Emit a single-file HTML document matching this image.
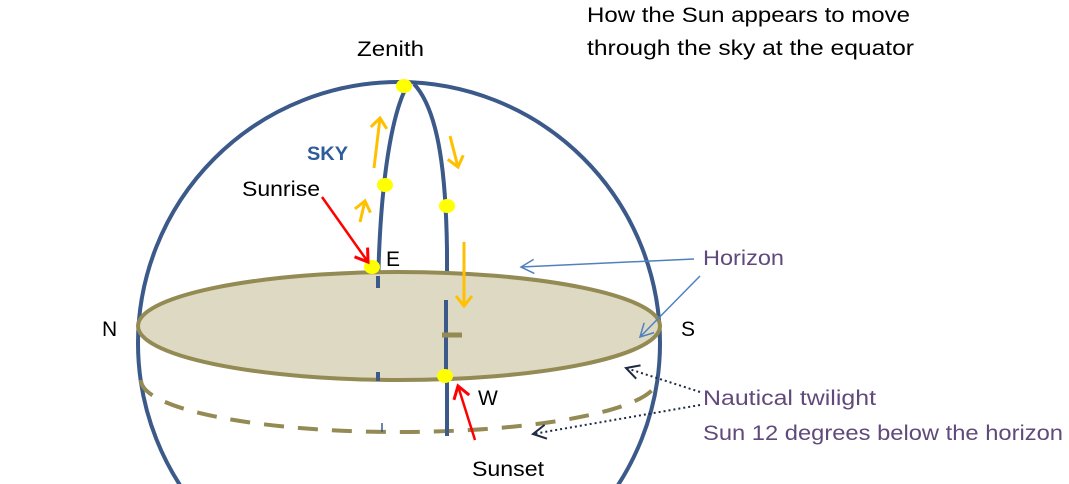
<!DOCTYPE html>
<html><head><style>
html,body{margin:0;background:#fff;overflow:hidden;width:1069px;height:484px;}
svg{display:block;font-family:"Liberation Sans",sans-serif;}
</style></head><body>
<svg width="1069" height="484" viewBox="0 0 1069 484">
<defs>
<marker id="ob" markerWidth="16" markerHeight="20" refX="12" refY="10" orient="auto" markerUnits="userSpaceOnUse"><path d="M2,2 L12,10 L2,18" fill="none" stroke="#ffc000" stroke-width="3"/></marker>
<marker id="rd" markerWidth="20" markerHeight="20" refX="14" refY="10" orient="auto" markerUnits="userSpaceOnUse"><path d="M2,2 L14,10 L2,18" fill="none" stroke="#ff0000" stroke-width="3"/></marker>
<marker id="bl" markerWidth="16" markerHeight="16" refX="14" refY="8" orient="auto" markerUnits="userSpaceOnUse"><path d="M1,1 L14,8 L1,15" fill="none" stroke="#4f81bd" stroke-width="1.5"/></marker>
<marker id="dk" markerWidth="16" markerHeight="16" refX="14" refY="8" orient="auto" markerUnits="userSpaceOnUse"><path d="M1,1 L14,8 L1,15" fill="none" stroke="#1f2a44" stroke-width="2"/></marker>
</defs>
<circle cx="399" cy="343" r="261" fill="none" stroke="#3b5a8a" stroke-width="4"/>
<path d="M141,380 A258,52 0 0 0 657,380" fill="none" stroke="#948a54" stroke-width="4" stroke-dasharray="20,14"/>
<path d="M408,84 C392,112 380,180 378,288" fill="none" stroke="#3b5a8a" stroke-width="4"/>
<path d="M414,84 C440,112 446,180 447,250 L447,436" fill="none" stroke="#3b5a8a" stroke-width="4"/>
<ellipse cx="399" cy="326" rx="261" ry="54" fill="#ddd9c3" stroke="#948a54" stroke-width="4"/>
<line x1="378" y1="276" x2="378" y2="288" stroke="#3b5a8a" stroke-width="4"/>
<line x1="378" y1="372" x2="378" y2="381" stroke="#3b5a8a" stroke-width="4"/>
<line x1="382" y1="423" x2="382" y2="432" stroke="#3b5a8a" stroke-width="1.5"/>
<line x1="446" y1="300" x2="446" y2="380" stroke="#3b5a8a" stroke-width="4"/>
<line x1="442" y1="335" x2="462" y2="335" stroke="#948a54" stroke-width="5"/>
<g fill="#ffff00">
<ellipse cx="404" cy="86" rx="8" ry="7"/><ellipse cx="385" cy="185" rx="8" ry="7"/>
<ellipse cx="447" cy="206" rx="8" ry="7"/><ellipse cx="372" cy="267" rx="8" ry="7"/>
<ellipse cx="445" cy="376" rx="8" ry="7"/>
</g>
<g stroke="#ffc000" stroke-width="3" fill="none">
<line x1="374" y1="168" x2="380" y2="118" marker-end="url(#ob)"/>
<line x1="360" y1="222" x2="365" y2="201" marker-end="url(#ob)"/>
<line x1="450" y1="136" x2="458" y2="167" marker-end="url(#ob)"/>
<line x1="464" y1="242" x2="464" y2="306" marker-end="url(#ob)"/>
</g>
<line x1="322" y1="197" x2="368" y2="262" stroke="#f00" stroke-width="2.5" marker-end="url(#rd)"/>
<line x1="475" y1="440" x2="458" y2="386" stroke="#f00" stroke-width="2.5" marker-end="url(#rd)"/>
<line x1="694" y1="259" x2="521" y2="267" stroke="#4f81bd" stroke-width="1.5" marker-end="url(#bl)"/>
<line x1="700" y1="276" x2="640" y2="337" stroke="#4f81bd" stroke-width="1.5" marker-end="url(#bl)"/>
<line x1="700" y1="392" x2="626" y2="368" stroke="#1f2a44" stroke-width="2" stroke-dasharray="2,3" marker-end="url(#dk)"/>
<line x1="700" y1="405" x2="533" y2="434" stroke="#1f2a44" stroke-width="2" stroke-dasharray="2,3" marker-end="url(#dk)"/>
<g font-size="21" fill="#000">
<text x="587" y="22" textLength="323" lengthAdjust="spacingAndGlyphs">How the Sun appears to move</text>
<text x="587" y="55" textLength="327" lengthAdjust="spacingAndGlyphs">through the sky at the equator</text>
<text x="357" y="56" textLength="67" lengthAdjust="spacingAndGlyphs">Zenith</text>
<text x="242" y="196" textLength="78" lengthAdjust="spacingAndGlyphs">Sunrise</text>
<text x="386" y="266">E</text>
<text x="102" y="336">N</text>
<text x="681" y="336">S</text>
<text x="478" y="405">W</text>
<text x="472" y="476" textLength="72" lengthAdjust="spacingAndGlyphs">Sunset</text>
</g>
<text x="307" y="160" font-size="19" font-weight="bold" fill="#2e5c9a" textLength="41" lengthAdjust="spacingAndGlyphs">SKY</text>
<g font-size="21" fill="#604a7b">
<text x="703" y="265" textLength="81" lengthAdjust="spacingAndGlyphs">Horizon</text>
<text x="703" y="405" textLength="173" lengthAdjust="spacingAndGlyphs">Nautical twilight</text>
<text x="703" y="440" textLength="360" lengthAdjust="spacingAndGlyphs">Sun 12 degrees below the horizon</text>
</g>
</svg>
</body></html>
